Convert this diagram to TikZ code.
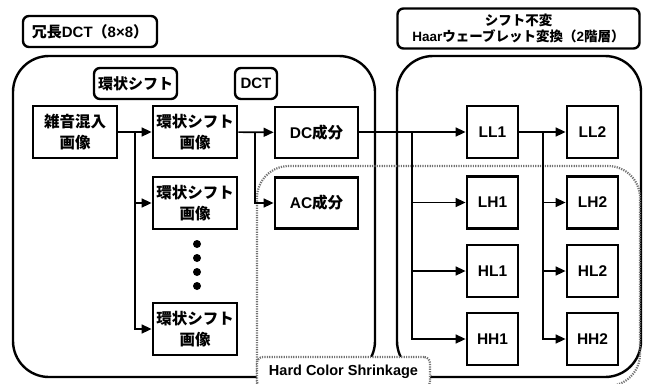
\documentclass[tikz,border=0pt]{standalone}
\usepackage{fontspec}
\setmainfont{Liberation Sans}
\newfontfamily\jp{Noto Sans CJK JP}
\usetikzlibrary{arrows.meta}
\tikzset{
  blk/.style={draw, line width=2.8pt, minimum width=84pt, minimum height=52pt, align=center, inner sep=0pt, font=\bfseries\fontsize{15.5}{21}\selectfont},
  sq/.style={blk, minimum width=51pt},
  tag/.style={draw, line width=2.4pt, rounded corners=6pt, align=center, inner sep=0pt, font=\bfseries\fontsize{15}{17}\selectfont},
  grp/.style={draw, line width=2.4pt, rounded corners=36pt, inner sep=0pt},
  arr/.style={line width=1.6pt, -{Triangle[length=10pt,width=9pt]}},
  hcs/.style={draw=black!55, line width=2.2pt, dash pattern=on 1.2pt off 1.2pt},
  dotn/.style={circle, fill, inner sep=0pt, minimum size=8pt},
}
\begin{document}
\begin{tikzpicture}[x=1pt,y=-1pt]
\useasboundingbox (0,0) rectangle (650,383);
% groups
\node[grp, minimum width=362pt, minimum height=321pt] (gl) at (194,216.5) {};
\node[grp, minimum width=244pt, minimum height=321pt] (gr) at (519,216.5) {};
% hard color shrinkage region
\coordinate (h1) at (257,420);
\coordinate (h2) at (257,166);
\coordinate (h3) at (640,166);
\coordinate (h4) at (640,386);
\coordinate (h5) at (520,386);
\draw[hcs, rounded corners=32pt] (h1) -- (h2) -- (h3) -- (h4) -- (h5);
% tags
\node[tag, minimum width=134pt, minimum height=31pt] (t1) at (90,31.5) {{\jp 冗長}DCT{\jp （}8×8{\jp ）}};
\node[tag, minimum width=83pt, minimum height=31pt] (t2) at (135.5,83.5) {\jp 環状シフト};
\node[tag, minimum width=42pt, minimum height=31pt] (t3) at (256,83.5) {DCT};
\node[tag, minimum width=242pt, minimum height=40pt, font=\bfseries\fontsize{13.5}{16.5}\selectfont] (t4) at (518.5,28.5) {{\jp シフト不変}\\Haar{\jp ウェーブレット変換（}2{\jp 階層）}};
% blocks
\node[blk] (noisy) at (75,132) {\jp 雑音混入\\\jp 画像};
\node[blk] (cs1) at (195,132) {\jp 環状シフト\\\jp 画像};
\node[blk] (cs2) at (195,203) {\jp 環状シフト\\\jp 画像};
\node[blk] (cs3) at (195,329) {\jp 環状シフト\\\jp 画像};
\node[blk, minimum width=83pt, minimum height=51pt] (dc) at (316.5,132.5) {DC{\jp 成分}};
\node[blk, minimum width=83pt, minimum height=51pt] (ac) at (316.5,203) {AC{\jp 成分}};
\node[sq] (ll1) at (492.5,132) {LL1};
\node[sq] (lh1) at (492.5,202.5) {LH1};
\node[sq] (hl1) at (492.5,271) {HL1};
\node[sq] (hh1) at (492.5,339) {HH1};
\node[sq] (ll2) at (592.5,132) {LL2};
\node[sq] (lh2) at (592.5,202.5) {LH2};
\node[sq] (hl2) at (592.5,271) {HL2};
\node[sq] (hh2) at (592.5,339) {HH2};
% dots
\node[dotn] (d1) at (197,244) {};
\node[dotn] (d2) at (197,258) {};
\node[dotn] (d3) at (197,272) {};
\node[dotn] (d4) at (197,286) {};
% connectors
\coordinate (b1) at (135,132);
\coordinate (b2) at (255,132);
\coordinate (b3) at (412,132);
\coordinate (b4) at (543,132);
\draw[arr] (noisy) -- (cs1);
\draw[arr] (b1) |- (cs2.west);
\draw[arr] (b1) |- (cs3.west);
\draw[arr] (cs1) -- (dc);
\draw[arr] (b2) |- (ac.west);
\draw[arr] (dc.east |- ll1) -- (ll1);
\draw[arr] (b3) |- (lh1.west);
\draw[arr] (b3) |- (hl1.west);
\draw[arr] (b3) |- (hh1.west);
\draw[arr] (ll1) -- (ll2);
\draw[arr] (b4) |- (lh2.west);
\draw[arr] (b4) |- (hl2.west);
\draw[arr] (b4) |- (hh2.west);
% label
\node[hcs, fill=white, rounded corners=6pt, minimum width=173pt, minimum height=30pt, inner sep=0pt, font=\bfseries\fontsize{14.5}{17}\selectfont] (hcsl) at (343.5,372) {Hard Color Shrinkage};
\end{tikzpicture}
\end{document}
